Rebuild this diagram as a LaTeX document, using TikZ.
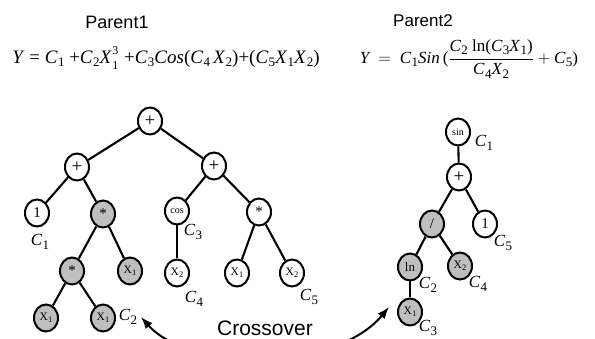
\documentclass[tikz,border=0pt]{standalone}
\usepackage{fontspec}
\setmainfont{Liberation Serif}
\newfontfamily\arialf{Liberation Sans}
\usetikzlibrary{shapes.geometric,arrows.meta}
\newcommand\sbs[1]{\raisebox{-0.45ex}{\fontsize{13}{13}\selectfont\upshape #1}}
\newcommand\Cv[1]{\textit{C}\kern0.3pt\sbs{#1}}
\newcommand\Xv[1]{\textit{X}\kern0.3pt\sbs{#1}}
\newcommand\Xn[1]{X\kern0.2pt\raisebox{-0.35ex}{\fontsize{8.5}{8.5}\selectfont #1}}
\newcommand\subsup[2]{\rlap{\raisebox{-0.7ex}{\fontsize{12}{12}\selectfont #1}}\raisebox{0.95ex}{\fontsize{12}{12}\selectfont #2}}
\tikzset{
  tn/.style={ellipse, draw, line width=2pt, minimum width=24pt, minimum height=27pt,
             inner sep=0pt, font=\fontsize{11.5}{11.5}\selectfont, fill=white},
  gn/.style={tn, fill=black!25},
  op/.style={font=\fontsize{15}{15}\selectfont},
  pl/.style={font=\fontsize{19}{19}\selectfont},
  edge/.style={line width=2.1pt},
  clab/.style={font=\fontsize{17}{17}\selectfont\itshape, inner sep=0pt},
  ttl/.style={font=\arialf\fontsize{18}{18}\selectfont, inner sep=0pt},
  frm/.style={font=\fontsize{19}{19}\selectfont, inner sep=0pt},
}
\begin{document}
\begin{tikzpicture}[x=1pt,y=-1pt]
\useasboundingbox (0,0) rectangle (595,339);
% titles
\node[ttl] (t1) at (117,22) {Parent1};
\node[ttl, font=\arialf\fontsize{17}{17}\selectfont] (t2) at (423,21) {Parent2};
\node[ttl, font=\arialf\fontsize{21}{21}\selectfont] (cx) at (265,328) {Crossover};
% formulas
\node[frm] (f1) at (166,58) {\textit{Y} = \Cv{1} +\Cv{2}\textit{X}\kern0.5pt\subsup{1}{3}\kern1pt{} +\Cv{3}\textit{Cos}(\Cv{4}\,\Xv{2})+(\Cv{5}\Xv{1}\Xv{2})};
\node[frm, font=\fontsize{17}{17}\selectfont] (f2) at (469,59) {$\textit{Y}\ =\ \mbox{\Cv{1}\textit{Sin}\,(}\displaystyle\frac{\mbox{\Cv{2} ln(\Cv{3}\Xv{1})}}{\mbox{\Cv{4}\Xv{2}}}+\mbox{\Cv{5})}$};
% Parent1 tree
\node[tn, pl] (r1) at (150,121) {+};
\node[tn, pl] (a) at (77,167) {+};
\node[tn, pl] (b) at (214,166) {+};
\node[tn, op] (c) at (37,213) {1};
\node[gn, op] (d) at (103,214) {*};
\node[tn, font=\fontsize{10}{10}\selectfont] (e) at (177,211) {cos};
\node[tn, op] (f) at (259,212) {*};
\node[gn, op] (g) at (72,271) {*};
\node[gn] (h) at (130,271) {\Xn{1}};
\node[tn] (i) at (177,273) {\Xn{2}};
\node[tn] (j) at (237,273) {\Xn{1}};
\node[tn] (k) at (292,273) {\Xn{2}};
\node[gn] (l) at (46,318) {\Xn{1}};
\node[gn] (m) at (103,318) {\Xn{1}};
\foreach \u/\v in {r1/a,r1/b,a/c,a/d,b/e,b/f,d/g,d/h,e/i,f/j,f/k,g/l,g/m}
  \draw[edge] (\u) -- (\v);
\node[clab] (lc1) at (40,242) {\Cv{1}};
\node[clab] (lc2) at (128,317) {\Cv{2}};
\node[clab] (lc3) at (193,232) {\Cv{3}};
\node[clab] (lc4) at (194,299) {\Cv{4}};
\node[clab] (lc5) at (309,297) {\Cv{5}};
% Parent2 tree
\node[tn, font=\fontsize{10}{10}\selectfont] (s) at (458,132) {sin};
\node[tn, pl] (p) at (459,177) {+};
\node[gn, op] (q) at (432,224) {/};
\node[tn, op] (o) at (485,224) {1};
\node[gn, font=\fontsize{13}{13}\selectfont] (n) at (410,267) {ln};
\node[gn] (x2) at (460,266) {\Xn{2}};
\node[gn] (x1) at (410,312) {\Xn{1}};
\foreach \u/\v in {s/p,p/q,p/o,q/n,q/x2,n/x1}
  \draw[edge] (\u) -- (\v);
\node[clab] (m1) at (484,143) {\Cv{1}};
\node[clab] (m5) at (503,243) {\Cv{5}};
\node[clab] (m2) at (428,285) {\Cv{2}};
\node[clab] (m4) at (478,284) {\Cv{4}};
\node[clab] (m3) at (428,328) {\Cv{3}};
% crossover arrow
\coordinate (al) at (141,317);
\coordinate (ar) at (389,307);
\begin{scope}
\clip (0,0) rectangle (595,339);
\draw[line width=2pt, {Latex[length=12pt,width=9pt]}-{Latex[length=12pt,width=9pt]}]
  (al) .. controls (190,372) and (335,372) .. (ar);
\end{scope}
\end{tikzpicture}
\end{document}
